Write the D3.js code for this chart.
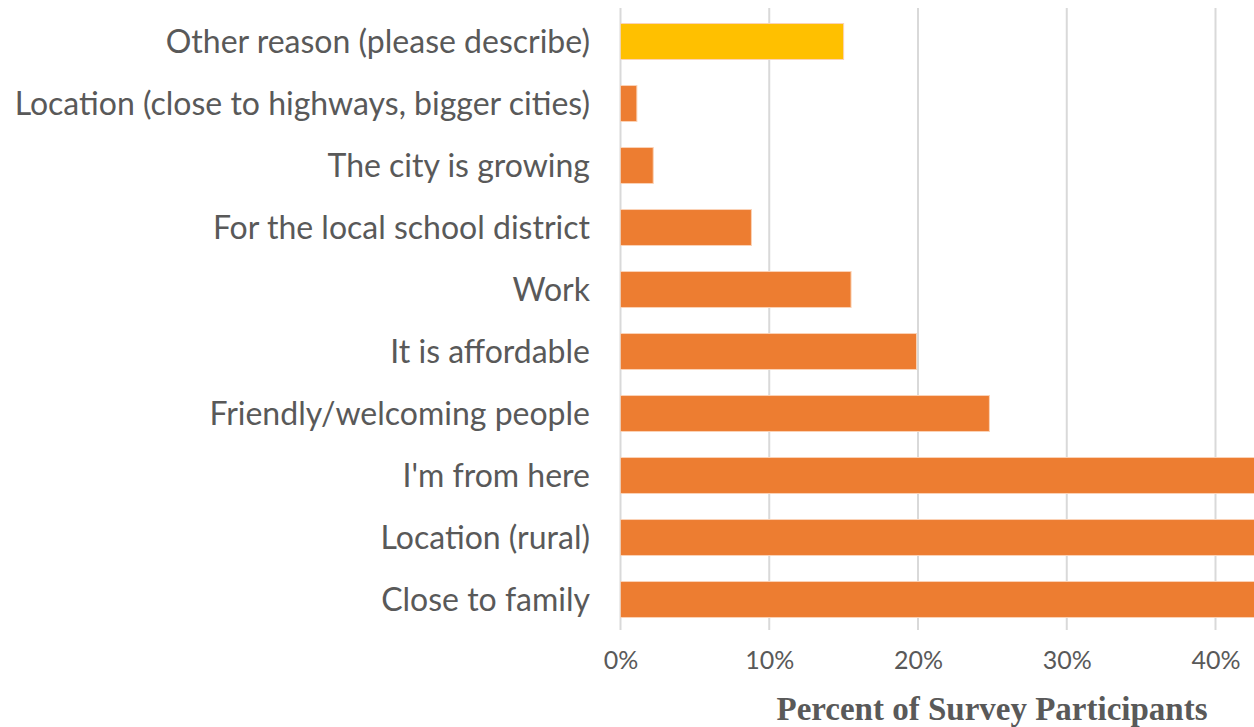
<!DOCTYPE html>
<meta charset="utf-8">
<style>
    body {
        margin: 0;
        background-color: #ffffff;
    }

    .label {
        font-family: Lato, sans-serif;
        font-size: 32px;
        fill: #595959;
    }

    .tick text {
        font-family: Lato, sans-serif;
        font-size: 25px;
        fill: #595959;
    }

    .title {
        font-family: "Liberation Serif", serif;
        font-weight: bold;
        font-size: 33px;
        fill: #595959;
    }
</style>
<svg width="1254" height="727"></svg>

<script src="https://d3js.org/d3.v7.min.js"></script>
<script>
    // top to bottom, as in the picture
    let categories = [
        "Other reason (please describe)",
        "Location (close to highways, bigger cities)",
        "The city is growing",
        "For the local school district",
        "Work",
        "It is affordable",
        "Friendly/welcoming people",
        "I'm from here",
        "Location (rural)",
        "Close to family"
    ];
    // percent; the last three run off the right edge of the plot
    let values = [15.0, 1.1, 2.2, 8.8, 15.5, 19.9, 24.8, 46, 48, 52];
    let highlighted = ["Other reason (please describe)"];
    let ticks = [0, 10, 20, 30, 40];

    let svg = d3.select("svg"),
            width = +svg.attr("width"),
            height = +svg.attr("height");

    let plotLeft = 620.5, plotRight = width, plotTop = 10.5, plotBottom = 630.5;
    let labelRight = 590, labelMax = 580;

    let x = d3.scaleLinear()
            .domain([0, (plotRight - plotLeft) / 14.875])
            .range([plotLeft, plotRight]);

    let y = d3.scaleBand()
            .domain(categories)
            .range([plotTop, plotBottom])
            .paddingInner(0.42)
            .paddingOuter(0.21);

    // gridlines
    svg.append("g")
            .selectAll("line")
            .data(ticks)
            .enter().append("line")
            .attr("x1", (d) => x(d))
            .attr("x2", (d) => x(d))
            .attr("y1", 8)
            .attr("y2", 630)
            .attr("stroke", "#d9d9d9")
            .attr("stroke-width", 2);

    svg.append("clipPath")
            .attr("id", "plot")
            .append("rect")
            .attr("x", plotLeft)
            .attr("y", 0)
            .attr("width", plotRight - plotLeft)
            .attr("height", height);

    svg.append("g")
            .attr("clip-path", "url(#plot)")
            .selectAll("rect")
            .data(categories)
            .enter().append("rect")
            .attr("x", x(0))
            .attr("y", (d) => y(d))
            .attr("width", (d, i) => x(values[i]) - x(0))
            .attr("height", y.bandwidth())
            .attr("fill", (d) => highlighted.includes(d) ? "#FFC000" : "#ED7D31")
            .attr("stroke", "#fbd3b6")
            .attr("stroke-width", 1);

    let labels = svg.append("g")
            .selectAll("text")
            .data(categories)
            .enter().append("text")
            .attr("class", "label")
            .attr("x", labelRight)
            .attr("y", (d) => y(d) + y.bandwidth() / 2 + 11)
            .attr("text-anchor", "end")
            .text((d) => d);

    // squeeze any label that would run past the left edge
    labels.each(function () {
        if (this.getComputedTextLength() > labelMax) {
            d3.select(this)
                    .attr("textLength", labelMax)
                    .attr("lengthAdjust", "spacingAndGlyphs");
        }
    });

    let axis = d3.axisBottom(x)
            .tickValues(ticks)
            .tickFormat((d) => d + "%")
            .tickSize(0)
            .tickPadding(0);

    svg.append("g")
            .attr("transform", "translate(0,651)")
            .call(axis)
            .call((g) => g.select(".domain").remove());

    svg.append("text")
            .attr("class", "title")
            .attr("x", 992)
            .attr("y", 720)
            .attr("text-anchor", "middle")
            .text("Percent of Survey Participants");
</script>
</html>
